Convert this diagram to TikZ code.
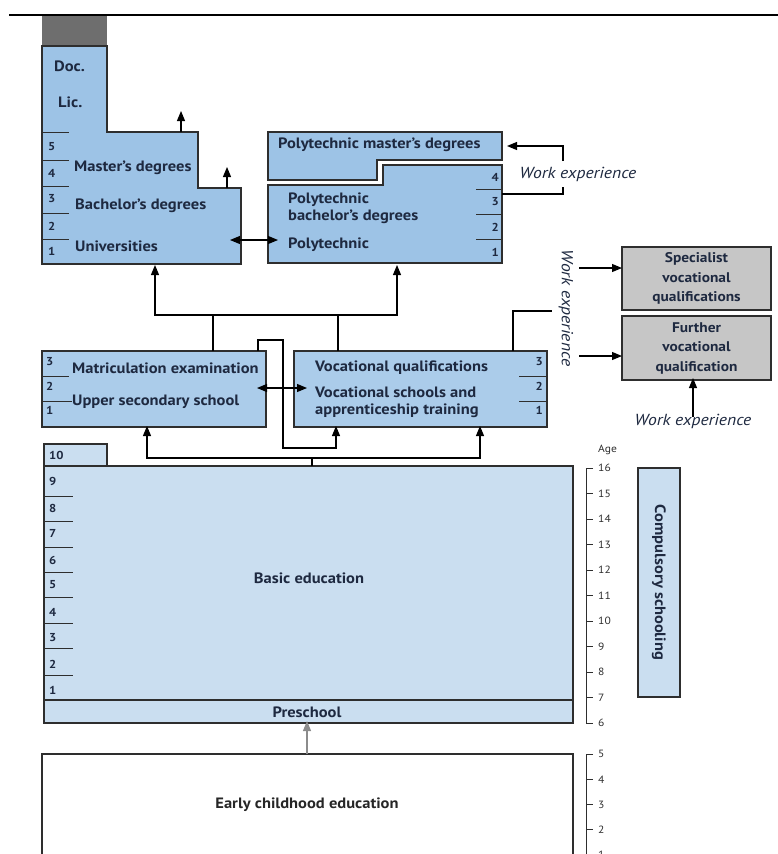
\documentclass[tikz,border=0pt]{standalone}
\usepackage{fontspec}
\setmainfont{PT Sans}[FakeStretch=1.1]
\usetikzlibrary{arrows.meta}

\definecolor{uniblue}{HTML}{9DC3E6}
\definecolor{secblue}{HTML}{ABCCEA}
\definecolor{basicblue}{HTML}{CADEF0}
\definecolor{boxgray}{HTML}{C6C6C6}
\definecolor{capgray}{HTML}{6E6E6E}
\definecolor{ink}{HTML}{1E2940}
\definecolor{edge}{HTML}{2E2E2E}
\definecolor{arrgray}{HTML}{8C8C8C}

\tikzset{
  outline/.style={draw=edge, line width=1.3pt},
  rbox/.style 2 args={outline, minimum width=#1pt, minimum height=#2pt,
    anchor=north west, inner sep=0pt, outer sep=0pt},
  lbl/.style={font=\bfseries\fontsize{15}{16}\selectfont, text=ink, inner sep=0pt},
  twolines/.style={font=\bfseries\fontsize{15}{17}\selectfont, align=left},
  glbl/.style={font=\bfseries\fontsize{14}{19.5}\selectfont, text=ink, inner sep=0pt, align=center},
  num/.style={font=\bfseries\fontsize{11.5}{13}\selectfont, text=ink, inner sep=0pt},
  agenum/.style={font=\fontsize{10.5}{12}\selectfont, text=edge, inner sep=0pt, anchor=west},
  wexp/.style={font=\itshape\fontsize{16}{17}\selectfont, text=ink, inner sep=0pt},
  yeartick/.style={draw=edge, line width=1pt},
  conn/.style={draw=black, line width=1.1pt},
  arr/.style={conn, -{Triangle[length=10pt,width=8pt]}},
  dbl/.style={conn, {Triangle[length=10pt,width=8pt]}-{Triangle[length=10pt,width=8pt]}},
}

\begin{document}
\begin{tikzpicture}[x=1pt,y=-1pt]
\useasboundingbox (0,0) rectangle (778,854);

% rule at the top of the page
\draw[line width=1.5pt] (9,15) -- (778,15);

% ---------------- Universities ----------------
\fill[capgray] (42,16) rectangle (107,46);
\path[outline, fill=uniblue] (42,46) -- (107,46) -- (107,132) -- (198,132) -- (198,188)
  -- (241,188) -- (241,264) -- (42,264) -- cycle;
\foreach \yy in {132,160,186,213,239} \draw[yeartick] (42,\yy) -- (69,\yy);
\foreach \n/\yy in {5/147,4/173,3/199,2/226,1/251}
  \node[num, anchor=west] (uy\n) at (48,\yy) {\n};
\node[lbl, anchor=west] (doc) at (54,66) {Doc.};
\node[lbl, anchor=west] (lic) at (58,102) {Lic.};
\node[lbl, anchor=west] (mast) at (74,168) {Master’s degrees};
\node[lbl, anchor=west] (bach) at (75,206) {Bachelor’s degrees};
\node[lbl, anchor=west] (univ) at (75,246) {Universities};
\coordinate (uniR) at (241,240);
\coordinate (lictop) at (181,132);
\coordinate (masttop) at (227,188);
\draw[arr] (lictop) -- ++(0,-21);
\draw[arr] (masttop) -- ++(0,-21);

% ---------------- Polytechnics ----------------
\path[outline, fill=uniblue] (268,132) -- (502,132) -- (502,160) -- (377,160) -- (377,180)
  -- (268,180) -- cycle;
\path[outline, fill=uniblue] (383,165) -- (502,165) -- (502,263) -- (268,263) -- (268,185)
  -- (383,185) -- cycle;
\foreach \yy in {189,214,239} \draw[yeartick] (476,\yy) -- (502,\yy);
\foreach \n/\yy in {4/177,3/202,2/227,1/252}
  \node[num, anchor=east] (py\n) at (499,\yy) {\n};
\node[lbl, anchor=west] (pmast) at (278,145) {Polytechnic master’s degrees};
\node[lbl, twolines, anchor=west] (pbach) at (288,208) {Polytechnic\\bachelor’s degrees};
\node[lbl, anchor=west] (poly) at (288,245) {Polytechnic};
\coordinate (pmastR) at (502,146);
\coordinate (pbachR) at (502,194);
\coordinate (polyL) at (268,240);

% work experience into the polytechnic master's programme
\node[wexp] (we1) at (578,174) {Work experience};
\coordinate (we1up) at (563,161);
\coordinate (we1dn) at (563,187);
\draw[arr] (we1up) |- ([xshift=5pt]pmastR);
\draw[conn] (we1dn) |- (pbachR);

\draw[dbl] ([xshift=-11pt]uniR) -- ([xshift=10pt]polyL);

% ---------------- Upper secondary level ----------------
\node[rbox={224}{76}, fill=secblue] (usec) at (42,351) {};
\node[rbox={253}{76}, fill=secblue] (voc) at (294,351) {};
\draw[yeartick] (42,376) -- (69,376);
\draw[yeartick] (42,401) -- (72,401);
\foreach \n/\yy in {3/362,2/386,1/410}
  \node[num, anchor=west] (sy\n) at (46,\yy) {\n};
\draw[yeartick] (519,376) -- (547,376);
\draw[yeartick] (519,401) -- (547,401);
\foreach \n/\yy in {3/362,2/386,1/410}
  \node[num, anchor=east] (vy\n) at (543,\yy) {\n};
\node[lbl, anchor=west] (matr) at (72,368) {Matriculation examination};
\node[lbl, anchor=west] (upsec) at (72,402) {Upper secondary school};
\node[lbl, anchor=west] (vocq) at (315,368) {Vocational qualifications};
\node[lbl, twolines, anchor=west] (vocs) at (315,402) {Vocational schools and\\apprenticeship training};

% paths from upper secondary to higher education
\coordinate (jl) at (155,315);
\coordinate (jr) at (397,315);
\draw[arr] (usec.north -| 213,0) |- (jl) -- (jl |- 0,265);
\draw[arr] (voc.north -| 338,0) |- (jr) -- (jr |- 0,265);
\draw[conn] (213,315) -- (338,315);

% crossing path from upper secondary school to vocational training
\coordinate (cr1) at (258,340);
\coordinate (cr2) at (283,448);
\draw[arr] (usec.north -| cr1) -- (cr1) -| (cr2) -| ([yshift=1pt]voc.south -| 336,0);
\draw[dbl] ([xshift=-9pt]usec.east |- 0,388) -- ([xshift=13pt]voc.west |- 0,388);

% ---------------- Further and specialist vocational qualifications ----------------
\node[rbox={149}{63}, fill=boxgray] (spec) at (622,247) {};
\node[rbox={149}{64}, fill=boxgray] (fur) at (622,316) {};
\node[glbl] at (spec.center) {Specialist\\vocational\\qualifications};
\node[glbl] at (fur.center) {Further\\vocational\\qualification};
\coordinate (vocwe) at (552,311);
\draw[conn] (voc.north -| 513,0) |- (vocwe);
\node[wexp, rotate=-90] (we2) at (566,308) {Work experience};
\draw[arr] (579,268) -- (spec.west |- 0,268);
\draw[arr] (579,356) -- (fur.west |- 0,356);
\node[wexp] (we3) at (693,421) {Work experience};
\draw[arr] ([yshift=-3pt]we3.north) -- ([yshift=2pt]fur.south -| we3);

% ---------------- Basic education ----------------
\node[rbox={63}{22}, fill=basicblue] (tab10) at (44,444) {};
\node[rbox={529}{234}, fill=basicblue] (basic) at (44,466) {};
\node[rbox={529}{23}, fill=basicblue] (pre) at (44,700) {};
\foreach \yy in {496,521,547,572,597,623,648,675} \draw[yeartick] (44,\yy) -- (73,\yy);
\foreach \n/\yy in {10/455,9/481,8/508,7/533,6/560,5/585,4/612,3/638,2/664,1/690}
  \node[num, anchor=west] (by\n) at (49,\yy) {\n};
\node[lbl] (basiclbl) at (309,578) {Basic education};
\node[lbl] (prelbl) at (307,712) {Preschool};

\coordinate (bj) at (312,458);
\draw[conn] (basic.north -| bj) -- (bj);
\draw[arr] (bj) -| ([yshift=1pt]usec.south -| 147,0);
\draw[arr] (bj) -| ([yshift=1pt]voc.south -| 480,0);

% ---------------- Age scale ----------------
\node[font=\fontsize{10.5}{12}\selectfont, text=edge, anchor=west, inner sep=0pt] (agelbl) at (598,450) {Age};
\draw[yeartick] (593,468) -- (586,468) -- (586,723) -- (593,723);
\foreach \a [count=\i from 0] in {16,15,14,13,12,11,10,9,8,7,6} {
  \draw[yeartick] (586,468+25.5*\i) -- (593,468+25.5*\i);
  \node[agenum] (age\a) at (598,468+25.5*\i) {\a};
}
\draw[yeartick] (593,754) -- (586,754) -- (586,870);
\foreach \a [count=\i from 0] in {5,4,3,2,1} {
  \draw[yeartick] (586,754+25.3*\i) -- (593,754+25.3*\i);
  \node[agenum] (agey\a) at (598,754+25.3*\i) {\a};
}

% compulsory schooling
\node[rbox={42}{229}, fill=basicblue] (comp) at (638,468) {};
\node[lbl, rotate=-90] (complbl) at (comp.center) {Compulsory schooling};

% ---------------- Early childhood education ----------------
\draw[outline] (42,870) -- (42,754) coordinate (ecl) -- (573,754) coordinate (ecr) -- (573,870);
\coordinate (ectop) at (307,754);
\node[lbl, text=black!85] (early) at (307,805) {Early childhood education};
\draw[draw=arrgray, line width=1.1pt, -{Triangle[length=10pt,width=8pt]}] (ectop) -- ([yshift=2pt]pre.south -| ectop);

\end{tikzpicture}
\end{document}
